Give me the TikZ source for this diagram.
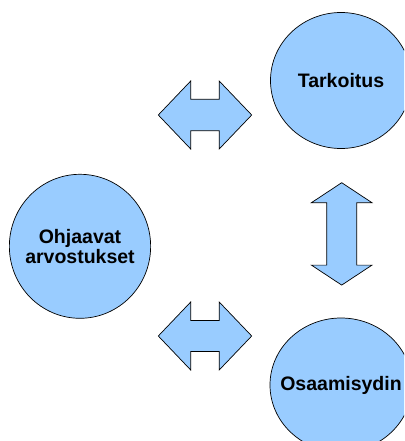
\documentclass[tikz,border=0pt]{standalone}
\usepackage{fontspec}
\setmainfont{Liberation Sans}
\usetikzlibrary{shapes.geometric}
\definecolor{VaaleanSininen}{RGB}{153,204,255}

\begin{document}
\begin{tikzpicture}[x=1pt, y=-1pt,
    pallo/.style={ellipse, draw=black, line width=0.7pt, fill=VaaleanSininen, inner sep=0pt},
    teksti/.style={font=\bfseries\fontsize{19.5}{19.8}\selectfont, align=center, inner sep=0pt},
    nuoli/.style={draw=black, line width=0.7pt, fill=VaaleanSininen, line join=miter}
  ]
    \useasboundingbox (0,0) rectangle (404,441);
    \clip (0,0) rectangle (404,441);
    \node[pallo, minimum width=141pt, minimum height=136pt] (tarkoitus) at (341,80.5) {};
    \node[teksti] at (tarkoitus) {Tarkoitus};
    \node[pallo, minimum width=141.3pt, minimum height=144pt] (ohjaavat) at (80,246.3) {};
    \node[teksti] at (ohjaavat) {Ohjaavat\\arvostukset};
    \node[pallo, minimum width=142pt, minimum height=134pt] (osaamisydin) at (341,385) {};
    \node[teksti] at (osaamisydin) {Osaamisydin};
    % kaksipaiset nuolet
    \draw[nuoli, shift={(205,115)}] (-46.7,0) -- (-14.3,-34) -- (-14.3,-15.7) -- (14.2,-15.7) -- (14.2,-34)
      -- (46.7,0) -- (14.2,34) -- (14.2,15.7) -- (-14.3,15.7) -- (-14.3,34) -- cycle;
    \draw[nuoli, shift={(205,336)}] (-46.7,0) -- (-14.3,-34) -- (-14.3,-15.5) -- (14.2,-15.5) -- (14.2,-34)
      -- (46.7,0) -- (14.2,34) -- (14.2,15.5) -- (-14.3,15.5) -- (-14.3,34) -- cycle;
    \draw[nuoli, shift={(341.7,233.9)}] (0,-51.2) -- (30.3,-31.2) -- (15,-31.2) -- (15,31.2) -- (30.3,31.2)
      -- (0,51.2) -- (-30.3,31.2) -- (-15,31.2) -- (-15,-31.2) -- (-30.3,-31.2) -- cycle;
  \end{tikzpicture}
\end{document}
